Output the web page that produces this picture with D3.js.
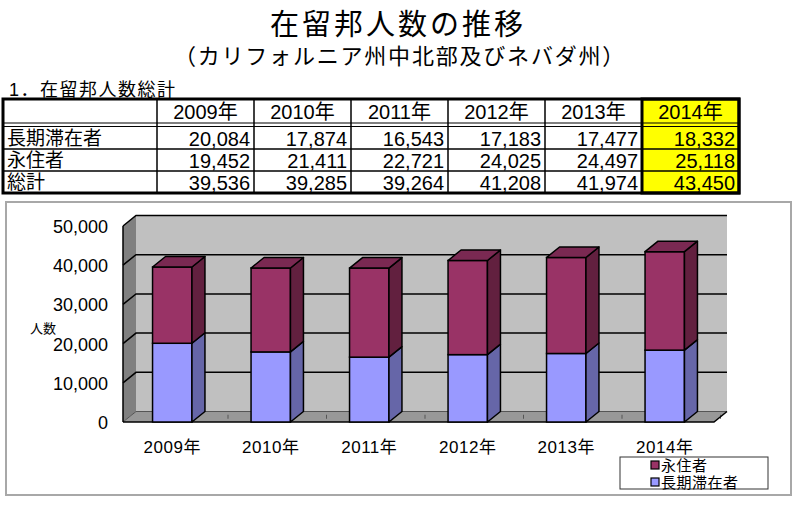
<!DOCTYPE html>
<html>
<head>
<meta charset="utf-8">
<script src="https://cdn.jsdelivr.net/npm/d3@7"></script>
<style>
  body { margin: 0; background: #fff; }
  svg { display: block; font-family: "Noto Sans CJK JP", "Noto Sans", sans-serif; }
  .tight { font-family: "Liberation Sans", "Noto Sans CJK JP", sans-serif; }
</style>
</head>
<body>
<div id="chart"></div>
<script>
// data
const years = ["2009年", "2010年", "2011年", "2012年", "2013年", "2014年"];
const longStay = [20084, 17874, 16543, 17183, 17477, 18332];   // 長期滞在者
const permanent = [19452, 21411, 22721, 24025, 24497, 25118];  // 永住者
const totals = [39536, 39285, 39264, 41208, 41974, 43450];     // 総計
const seriesNames = ["長期滞在者", "永住者"];
const rowNames = ["長期滞在者", "永住者", "総計"];
const yTicks = [0, 10000, 20000, 30000, 40000, 50000];

const rows = years.map((yr, i) => ({ year: yr, 長期滞在者: longStay[i], 永住者: permanent[i] }));
const tableRows = [longStay, permanent, totals];

// const
const width = 800;
const height = 505;
const fmt = d3.format(",");

const svg = d3.select('#chart')
    .append('svg')
    .attr('width', width)
    .attr('height', height);

svg.append('rect').attr('width', width).attr('height', height).attr('fill', '#fff');

// titles
svg.append('text')
    .attr('class', 'tight')
    .attr('x', 398).attr('y', 35)
    .attr('text-anchor', 'middle')
    .attr('font-size', 29).attr('letter-spacing', 3)
    .text('在留邦人数の推移');
svg.append('text')
    .attr('class', 'tight')
    .attr('x', 400).attr('y', 64)
    .attr('text-anchor', 'middle')
    .attr('font-size', 22).attr('letter-spacing', 1.8)
    .text('（カリフォルニア州中北部及びネバダ州）');
svg.append('text')
    .attr('class', 'tight')
    .attr('x', 9).attr('y', 96)
    .attr('font-size', 18).attr('letter-spacing', 1.5)
    .text('1．在留邦人数総計');

// table
const tx = d3.scaleBand().domain(years).range([157, 739]);
const ty = d3.scaleBand().domain(rowNames).range([127, 193]);
const tTop = 99, tHead = 123, tLeft = 3, tRight = 739, tBottom = 193;
const tbl = svg.append('g');

tbl.append('rect')
    .attr('x', tx('2014年')).attr('y', tTop)
    .attr('width', tx.bandwidth()).attr('height', tBottom - tTop)
    .attr('fill', '#ffff00');

// column lines
tbl.selectAll('.vline')
    .data(years)
    .join('line')
    .attr('x1', d => tx(d)).attr('x2', d => tx(d))
    .attr('y1', tTop).attr('y2', tBottom)
    .attr('stroke', '#000').attr('stroke-width', 1.5);

// row lines
tbl.selectAll('.hline')
    .data(rowNames.slice(1))
    .join('line')
    .attr('x1', tLeft).attr('x2', tRight)
    .attr('y1', d => ty(d)).attr('y2', d => ty(d))
    .attr('stroke', '#000').attr('stroke-width', 1.5);

// double line under header
[tHead, tHead + 3.5].forEach(yy => {
  tbl.append('line')
      .attr('x1', tLeft).attr('x2', tRight)
      .attr('y1', yy).attr('y2', yy)
      .attr('stroke', '#000').attr('stroke-width', 1);
});

// thick borders
tbl.append('rect')
    .attr('x', tx('2014年')).attr('y', tTop)
    .attr('width', tx.bandwidth()).attr('height', tBottom - tTop)
    .attr('fill', 'none').attr('stroke', '#000').attr('stroke-width', 3);
tbl.append('rect')
    .attr('x', tLeft).attr('y', tTop)
    .attr('width', tRight - tLeft).attr('height', tBottom - tTop)
    .attr('fill', 'none').attr('stroke', '#000').attr('stroke-width', 3);

// header labels
tbl.selectAll('.hdr')
    .data(years)
    .join('text')
    .attr('class', 'tight')
    .attr('x', d => tx(d) + tx.bandwidth() / 2)
    .attr('y', tHead - 4)
    .attr('text-anchor', 'middle')
    .attr('font-size', 20)
    .text(d => d);

// row labels
tbl.selectAll('.rlab')
    .data(rowNames)
    .join('text')
    .attr('class', 'tight')
    .attr('x', 7)
    .attr('y', d => ty(d) + ty.bandwidth() - 4)
    .attr('font-size', 19)
    .text(d => d);

// values
tableRows.forEach((vals, r) => {
  tbl.selectAll('.v' + r)
      .data(vals)
      .join('text')
      .attr('class', 'tight')
      .attr('x', (d, i) => tx(years[i]) + tx.bandwidth() - 4)
      .attr('y', ty(rowNames[r]) + ty.bandwidth() - 3)
      .attr('text-anchor', 'end')
      .attr('font-size', 20)
      .text(d => fmt(d));
});

// chart frame
svg.append('rect')
    .attr('x', 6).attr('y', 202)
    .attr('width', 785).attr('height', 293)
    .attr('fill', '#fff').attr('stroke', '#a8a8a8').attr('stroke-width', 2);

// 3d chart
const DX = 13, DY = -10.5;
const x = d3.scaleBand()
    .domain(years)
    .range([123, 714])
    .paddingInner(0.6)
    .paddingOuter(0.3);
const y = d3.scaleLinear()
    .domain([0, 50000])
    .range([422, 226]);
const x0 = x.range()[0], x1 = x.range()[1];
const y0 = y(0), yTop = y(50000);
const pts = p => p.map(q => q.join(',')).join(' ');

const plot = svg.append('g');

// back wall
plot.append('polygon')
    .attr('points', pts([[x0 + DX, yTop + DY], [x1 + DX, yTop + DY], [x1 + DX, y0 + DY], [x0 + DX, y0 + DY]]))
    .attr('fill', '#c0c0c0');
// left wall
plot.append('polygon')
    .attr('points', pts([[x0, yTop], [x0 + DX, yTop + DY], [x0 + DX, y0 + DY], [x0, y0]]))
    .attr('fill', '#808080');
// floor
plot.append('polygon')
    .attr('points', pts([[x0, y0], [x1, y0], [x1 + DX, y0 + DY], [x0 + DX, y0 + DY]]))
    .attr('fill', '#989898');

// gridlines
plot.selectAll('.grid')
    .data(yTicks)
    .join('polyline')
    .attr('points', d => pts([[x0, y(d)], [x0 + DX, y(d) + DY], [x1 + DX, y(d) + DY]]))
    .attr('fill', 'none')
    .attr('stroke', d => d === 0 ? '#555' : '#000')
    .attr('stroke-width', d => d === 0 ? 1 : 1.5);

// floor ticks at category boundaries
plot.selectAll('.ftick')
    .data(d3.range(1, years.length + 1))
    .join('line')
    .attr('x1', d => x0 + d * x.step() + DX / 2).attr('x2', d => x0 + d * x.step() + DX / 2)
    .attr('y1', y0 + DY / 2 - 2).attr('y2', y0 + DY / 2 + 2)
    .attr('stroke', '#555').attr('stroke-width', 1);

// axes edges
plot.append('line')
    .attr('x1', x0).attr('x2', x0).attr('y1', yTop).attr('y2', y0)
    .attr('stroke', '#000').attr('stroke-width', 1.5);
plot.append('polyline')
    .attr('points', pts([[x0, y0], [x1, y0], [x1 + DX, y0 + DY]]))
    .attr('fill', 'none').attr('stroke', '#000').attr('stroke-width', 1.5);

// bars
const colors = {
  長期滞在者: { front: '#9999ff', side: '#6666a8', top: '#7a7acc' },
  永住者: { front: '#993366', side: '#62203f', top: '#7a2952' }
};
const stack = d3.stack().keys(seriesNames)(rows);

years.forEach((yr, i) => {
  const g = plot.append('g');
  const xl = x(yr), xr = x(yr) + x.bandwidth();
  stack.forEach((layer, li) => {
    const s = layer[i];
    const c = colors[layer.key];
    const yb = y(s[0]), yt = y(s[1]);
    g.append('rect')
        .attr('x', xl).attr('y', yt)
        .attr('width', x.bandwidth()).attr('height', yb - yt)
        .attr('fill', c.front).attr('stroke', '#000').attr('stroke-width', 1.5);
    g.append('polygon')
        .attr('points', pts([[xr, yt], [xr + DX, yt + DY], [xr + DX, yb + DY], [xr, yb]]))
        .attr('fill', c.side).attr('stroke', '#000').attr('stroke-width', 1.5)
        .attr('stroke-linejoin', 'round');
    if (li === stack.length - 1) {
      g.append('polygon')
          .attr('points', pts([[xl, yt], [xr, yt], [xr + DX, yt + DY], [xl + DX, yt + DY]]))
          .attr('fill', c.top).attr('stroke', '#000').attr('stroke-width', 1.5)
          .attr('stroke-linejoin', 'round');
    }
  });
});

// y tick labels
svg.selectAll('.ylab')
    .data(yTicks)
    .join('text')
    .attr('class', 'tight')
    .attr('x', 108)
    .attr('y', d => y(d) + 7)
    .attr('text-anchor', 'end')
    .attr('font-size', 18)
    .text(d => fmt(d));

svg.append('text')
    .attr('x', 43).attr('y', 333)
    .attr('text-anchor', 'middle')
    .attr('font-size', 13)
    .text('人数');

// category labels
svg.selectAll('.xlab')
    .data(years)
    .join('text')
    .attr('class', 'tight')
    .attr('x', d => x(d) + x.bandwidth() / 2)
    .attr('y', 453)
    .attr('text-anchor', 'middle')
    .attr('font-size', 17).attr('letter-spacing', 0.5)
    .text(d => d);

// legend
const lg = svg.append('g');
lg.append('rect')
    .attr('x', 620).attr('y', 457).attr('width', 148).attr('height', 32)
    .attr('fill', '#fff').attr('stroke', '#333').attr('stroke-width', 1);
const legendItems = seriesNames.slice().reverse();
const ly = d3.scalePoint().domain(legendItems).range([465, 482]);
lg.selectAll('.lsw')
    .data(legendItems)
    .join('rect')
    .attr('x', 651).attr('y', d => ly(d) - 4)
    .attr('width', 8).attr('height', 8)
    .attr('fill', d => colors[d].front).attr('stroke', '#000').attr('stroke-width', 1.2);
lg.selectAll('.ltx')
    .data(legendItems)
    .join('text')
    .attr('class', 'tight')
    .attr('x', 661).attr('y', d => ly(d) + 6)
    .attr('font-size', 15).attr('letter-spacing', 0.5)
    .text(d => d);
</script>
</body>
</html>
